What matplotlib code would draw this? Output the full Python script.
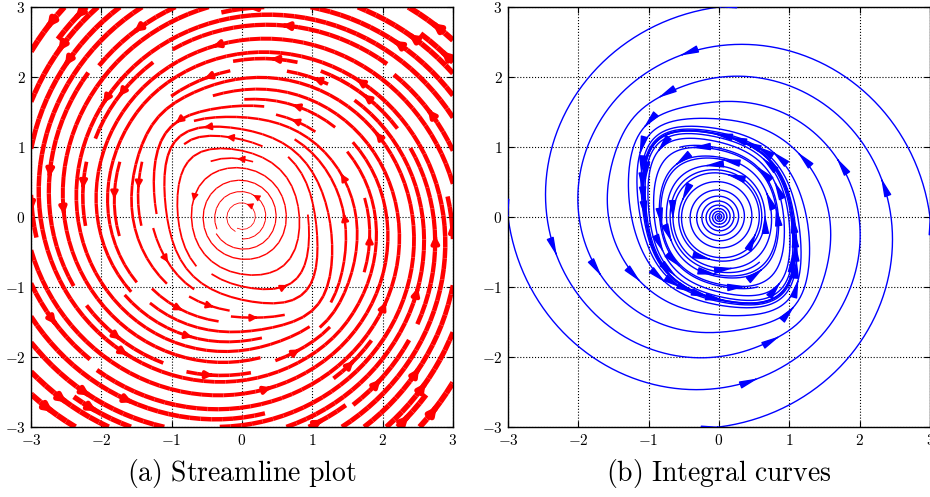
import numpy as np
import matplotlib
matplotlib.use('Agg')
import matplotlib.pyplot as plt
from matplotlib.patches import FancyArrowPatch

plt.rcParams['mathtext.fontset'] = 'cm'
plt.rcParams['font.family'] = ['DejaVu Serif']

# axis ticks and captions
ticks = [-3, -2, -1, 0, 1, 2, 3]
captions = ['(a) Streamline plot', '(b) Integral curves']

# vector field: rotation around a squarish limit cycle
SPIN = 1.0                 # angular speed
GROW_IN = [0.004, 0.024, 0.05]   # outward drift inside the cycle (r^0, r^1, r^3)
DECAY_OUT = 0.13           # spiral decay outside the cycle
AX_HALF = 1.08             # half width of the cycle
AY_HALF = 1.25             # half height of the cycle
DIAG_HALF = 1.7            # cut of the top-right / bottom-left corners
NORM_P = 4
BLEND = 0.35

# seed points of the integral curves (first one sits at the centre)
seed_x = [0.01, 3.0, -3.0, 0.0, 0.0, 0.52, -0.52, 0.05, -0.05]
seed_y = [0.0, 0.0, 0.0, 3.0, -3.0, -0.24, 0.24, 0.82, -0.82]
seed_t = [62.0, 16.0, 16.0, 16.0, 16.0, 12.0, 12.0, 12.0, 12.0]
ARROW_EVERY = 1.8


def field(x, y):
    r = np.hypot(x, y) + 1e-9
    ex = x / r
    ey = y / r
    P = NORM_P
    qx = x / AX_HALF
    qy = y / AY_HALF
    qd = (x + y) / DIAG_HALF
    s = np.abs(qx)**P + np.abs(qy)**P + np.abs(qd)**P
    rho = s**(1.0 / P) + 1e-12
    gx = rho**(1 - P) * (np.abs(qx)**(P - 1) * np.sign(qx) / AX_HALF
                         + np.abs(qd)**(P - 1) * np.sign(qd) / DIAG_HALF)
    gy = rho**(1 - P) * (np.abs(qy)**(P - 1) * np.sign(qy) / AY_HALF
                         + np.abs(qd)**(P - 1) * np.sign(qd) / DIAG_HALF)
    gl = np.hypot(gx, gy) + 1e-12
    w = np.exp(-((rho - 1) / BLEND)**2)
    nx = (1 - w) * ex + w * gx / gl
    ny = (1 - w) * ey + w * gy / gl
    nl = np.hypot(nx, ny) + 1e-12
    nx = nx / nl
    ny = ny / nl
    c0, c1, c3 = GROW_IN
    inside = (c0 + c1 * r + c3 * r**3) * (1 - np.clip(rho, 0, 1)**4)
    outside = -DECAY_OUT * r * np.tanh((rho - 1) / 0.24)
    rad = np.where(rho < 1, inside, outside)
    sp = SPIN * r
    u = -sp * ny + rad * nx
    v = sp * nx + rad * ny
    return u, v


def trace(x0, y0, t_end, dt=0.02):
    n = int(t_end / dt)
    xs = np.empty(n + 1)
    ys = np.empty(n + 1)
    x, y = x0, y0
    xs[0], ys[0] = x, y
    h = dt
    for i in range(n):
        k1 = field(x, y)
        k2 = field(x + h / 2 * k1[0], y + h / 2 * k1[1])
        k3 = field(x + h / 2 * k2[0], y + h / 2 * k2[1])
        k4 = field(x + h * k3[0], y + h * k3[1])
        x = x + h / 6 * (k1[0] + 2 * k2[0] + 2 * k3[0] + k4[0])
        y = y + h / 6 * (k1[1] + 2 * k2[1] + 2 * k3[1] + k4[1])
        xs[i + 1], ys[i + 1] = x, y
    return xs, ys


fig = plt.figure(figsize=(9.3, 4.97), dpi=100)
ax1 = fig.add_axes([31 / 930, 70 / 497, 422 / 930, 420 / 497])
ax2 = fig.add_axes([508 / 930, 70 / 497, 422 / 930, 420 / 497])

# (a) streamlines
g = np.linspace(-3, 3, 240)
X, Y = np.meshgrid(g, g)
U, V = field(X, Y)
speed = np.hypot(U, V)
ax1.streamplot(g, g, U, V, color='r', linewidth=0.4 + 0.95 * speed,
               density=1.3, arrowsize=1.0)

# (b) integral curves
dt = 0.02
step = int(round(ARROW_EVERY / dt))
for j in range(len(seed_x)):
    xs, ys = trace(float(seed_x[j]), float(seed_y[j]), seed_t[j], dt)
    ax2.plot(xs, ys, color='b', lw=1.0)
    if j == 0:
        continue
    for i in range(0, len(xs), step):
        px, py = xs[i], ys[i]
        u, v = field(px, py)
        L = np.hypot(u, v) + 1e-12
        du, dv = 0.02 * u / L, 0.02 * v / L
        ax2.add_patch(FancyArrowPatch((px - du, py - dv), (px + du, py + dv),
                                      arrowstyle='-|>,head_length=1.1,head_width=0.22',
                                      mutation_scale=10, color='b', lw=1.0,
                                      shrinkA=0, shrinkB=0, zorder=3))

for ax, cap in zip([ax1, ax2], captions):
    ax.set_xlim(-3, 3)
    ax.set_ylim(-3, 3)
    ax.set_xticks(ticks)
    ax.set_yticks(ticks)
    ax.set_xticklabels(['$%d$' % t for t in ticks], fontsize=11)
    ax.set_yticklabels(['$%d$' % t for t in ticks], fontsize=11)
    ax.tick_params(direction='in', top=True, right=True, length=4, width=0.8, pad=4)
    ax.grid(True, color='k', linestyle=':', linewidth=0.8)
    for sp in ax.spines.values():
        sp.set_linewidth(1.0)
    pos = ax.get_position()
    fig.text(pos.x0 + pos.width / 2, 23 / 497, r'$\mathrm{%s}$' % cap.replace(' ', r'\ '),
             ha='center', va='center', fontsize=20)

fig.savefig('out.png', dpi=100)
